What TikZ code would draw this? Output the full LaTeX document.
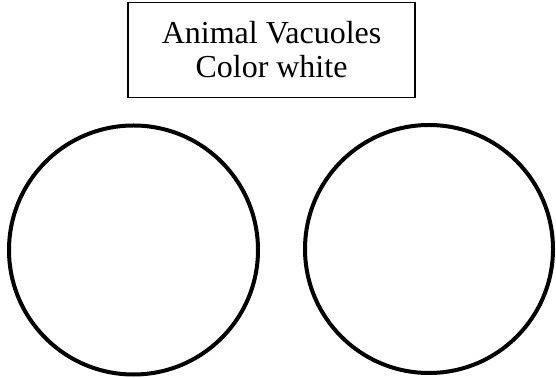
\documentclass[tikz,border=0pt]{standalone}
\usepackage{fontspec}
\setmainfont{Liberation Serif}
\begin{document}
\begin{tikzpicture}[x=1pt,y=1pt]

\useasboundingbox (0,0) rectangle (556,377);

\node[draw, line width=1.2pt, minimum width=287pt, minimum height=95pt,
  align=center, font=\fontsize{32}{34}\selectfont] (label) at (271.5,327)
  {Animal Vacuoles\\Color white};

\draw[line width=4pt] (133.5,127) circle(124.5pt);
\draw[line width=4pt] (429,128) circle(124pt);

\end{tikzpicture}
\end{document}
